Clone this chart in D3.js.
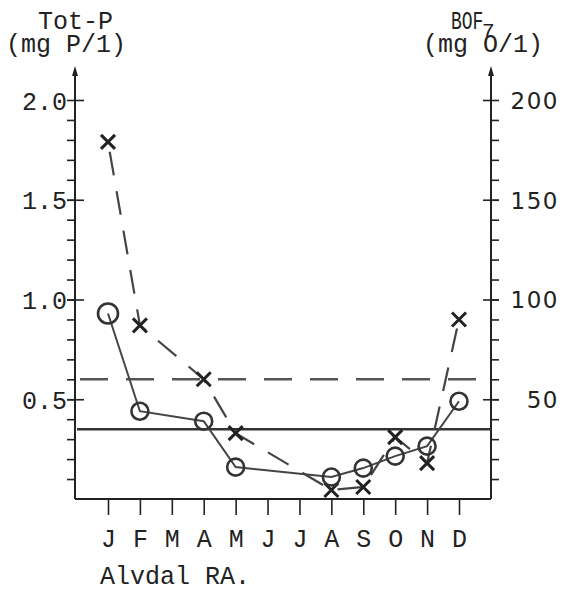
<!DOCTYPE html>
<html>
<head>
<meta charset="utf-8">
<script src="https://cdn.jsdelivr.net/npm/d3@7"></script>
<style>
  body { margin: 0; background: #fff; }
  svg { display: block; }
  .tw { font-family: "Liberation Mono", monospace; fill: #222; }
  .sn { font-family: "DejaVu Sans", sans-serif; fill: #222; }
</style>
</head>
<body>
<div id="chart"></div>
<script>
// months on the x axis
var months = ["J","F","M","A","M","J","J","A","S","O","N","D"];
// Tot-P (mg P/l), circles, solid line  -- month index / value
var totPMonth = [0, 1, 3, 4, 7, 8, 9, 10, 11];
var totPValue = [0.93, 0.44, 0.39, 0.16, 0.11, 0.155, 0.215, 0.265, 0.49];
// BOF7 (mg O/l), crosses, dashed line
var bofMonth = [0, 1, 3, 4, 7, 8, 9, 10, 11];
var bofValue = [179, 87, 60, 33, 4.5, 6, 31, 18, 90];
// limit lines
var totPLimit = 0.35;
var bofLimit = 60;
var leftTicks = [0.5, 1.0, 1.5, 2.0];
var rightTicks = [50, 100, 150, 200];

var W = 566, H = 594;
var xLeft = 75, xRight = 491, yBottom = 499;

var svg = d3.select("#chart").append("svg")
    .attr("width", W)
    .attr("height", H);

var x = d3.scalePoint().domain(d3.range(12)).range([108, 459]);
var y = d3.scaleLinear().domain([0, 2]).range([yBottom, 100]);
var y2 = d3.scaleLinear().domain([0, 200]).range([yBottom, 100]);

var ink = "#222";

// frame: left axis, right axis, bottom line
svg.append("line").attr("x1", xLeft).attr("x2", xLeft).attr("y1", yBottom).attr("y2", 72)
    .style("stroke", ink).style("stroke-width", 2);
svg.append("line").attr("x1", xRight).attr("x2", xRight).attr("y1", yBottom).attr("y2", 72)
    .style("stroke", ink).style("stroke-width", 2);
svg.append("line").attr("x1", xLeft).attr("x2", xRight).attr("y1", yBottom).attr("y2", yBottom)
    .style("stroke", ink).style("stroke-width", 2);

// arrow heads
[xLeft, xRight].forEach(function(ax){
  svg.append("path")
    .attr("d", "M" + ax + ",66 L" + (ax - 3) + ",76 L" + (ax + 3) + ",76 Z")
    .style("fill", ink);
});

// minor ticks (every 0.1) left side on left axis, right side on right axis
var minors = d3.range(1, 20).map(function(d){ return d / 10; });
svg.append("g")
    .attr("transform", "translate(" + xLeft + ",0)")
    .call(d3.axisLeft(y).tickValues(minors).tickSize(8).tickFormat(""))
    .call(function(g){ g.select(".domain").remove(); g.selectAll("line").style("stroke", ink).style("stroke-width", 1.6); });
svg.append("g")
    .attr("transform", "translate(" + xRight + ",0)")
    .call(d3.axisRight(y2).tickValues(minors.map(function(d){ return d * 100; })).tickSize(8).tickFormat(""))
    .call(function(g){ g.select(".domain").remove(); g.selectAll("line").style("stroke", ink).style("stroke-width", 1.6); });

// major ticks crossing the axis, with labels
var gl = svg.append("g")
    .attr("transform", "translate(" + xLeft + ",0)")
    .call(d3.axisLeft(y).tickValues(leftTicks).tickSize(8).tickPadding(0).tickFormat(d3.format(".1f")));
gl.select(".domain").remove();
gl.selectAll("line").attr("x2", 9).attr("x1", -8).style("stroke", ink).style("stroke-width", 1.6);
gl.selectAll("text").attr("class", "tw").attr("x", -8).attr("dy", "0.36em")
    .style("font-size", "25px").attr("fill", ink);

var gr = svg.append("g")
    .attr("transform", "translate(" + xRight + ",0)")
    .call(d3.axisRight(y2).tickValues(rightTicks).tickSize(8).tickFormat(d3.format("d")));
gr.select(".domain").remove();
gr.selectAll("line").attr("x1", -8).attr("x2", 8).style("stroke", ink).style("stroke-width", 1.6);
gr.selectAll("text").attr("class", "sn").attr("x", 68).attr("text-anchor", "end").attr("dy", "0.36em")
    .style("font-size", "23px").style("letter-spacing", "1.5px").attr("fill", ink);

// month axis
var gx = svg.append("g")
    .attr("transform", "translate(0," + yBottom + ")")
    .call(d3.axisBottom(x).tickSize(16).tickPadding(14).tickFormat(function(i){ return months[i]; }));
gx.select(".domain").remove();
gx.selectAll("line").style("stroke", ink).style("stroke-width", 1.6);
gx.selectAll("text").attr("class", "tw").style("font-size", "25px").attr("fill", ink);

// axis titles
svg.append("text").attr("class", "tw").attr("x", 38).attr("y", 29).style("font-size", "25px").text("Tot-P");
svg.append("text").attr("class", "tw").attr("x", 6).attr("y", 52).style("font-size", "25px").text("(mg P/1)");
svg.append("text").attr("class", "tw").attr("transform", "translate(451,29) scale(0.72,1)")
    .style("font-size", "25px").text("BOF");
svg.append("text").attr("class", "tw").attr("x", 482).attr("y", 37).style("font-size", "21px").text("7");
svg.append("text").attr("class", "tw").attr("x", 423).attr("y", 52).style("font-size", "25px").text("(mg O/1)");

// caption
svg.append("text").attr("class", "tw").attr("x", 100).attr("y", 584).style("font-size", "25px").text("Alvdal RA.");

// limit lines
svg.append("line").attr("x1", xLeft + 2).attr("x2", xRight)
    .attr("y1", y(totPLimit)).attr("y2", y(totPLimit))
    .style("stroke", "#333").style("stroke-width", 2.5);
svg.append("line").attr("x1", xLeft + 5).attr("x2", xRight - 3)
    .attr("y1", y2(bofLimit)).attr("y2", y2(bofLimit))
    .style("stroke", "#555").style("stroke-width", 2.5).style("stroke-dasharray", "28,18");

// BOF dashed series
var bofData = bofMonth.map(function(m, i){ return {m: m, v: bofValue[i]}; });
var bofLine = d3.line()
    .x(function(d){ return x(d.m); })
    .y(function(d){ return y2(d.v); });
svg.append("path").datum(bofData)
    .attr("d", bofLine)
    .style("fill", "none").style("stroke", "#444").style("stroke-width", 2.2)
    .style("stroke-dasharray", "24,16").style("stroke-dashoffset", -10);

// Tot-P solid series
var tpData = totPMonth.map(function(m, i){ return {m: m, v: totPValue[i]}; });
var tpLine = d3.line()
    .x(function(d){ return x(d.m); })
    .y(function(d){ return y(d.v); });
svg.append("path").datum(tpData)
    .attr("d", tpLine)
    .style("fill", "none").style("stroke", "#444").style("stroke-width", 2);

// crosses
svg.selectAll(".cross").data(bofData).enter().append("path")
    .attr("class", "cross")
    .attr("transform", function(d){ return "translate(" + x(d.m) + "," + y2(d.v) + ")"; })
    .attr("d", "M-7,-7L7,7M-7,7L7,-7")
    .style("stroke", "#222").style("stroke-width", 3).style("fill", "none");

// circles
svg.selectAll(".circ").data(tpData).enter().append("circle")
    .attr("class", "circ")
    .attr("cx", function(d){ return x(d.m); })
    .attr("cy", function(d){ return y(d.v); })
    .attr("r", function(d, i){ return i === 0 ? 10 : 8.5; })
    .style("fill", "none").style("stroke", "#333").style("stroke-width", 2.6);
</script>
</body>
</html>
